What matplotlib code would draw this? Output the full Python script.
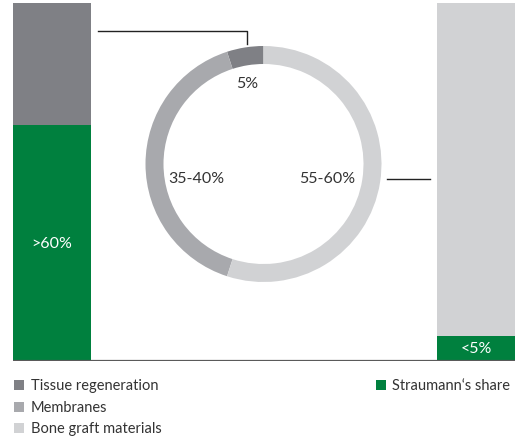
import matplotlib
matplotlib.use("Agg")
import matplotlib.pyplot as plt
from matplotlib.patches import Rectangle

plt.rcParams['font.family'] = ['Lato', 'DejaVu Sans']

# ---- data ----
segments = ["Tissue regeneration", "Membranes", "Bone graft materials"]
segment_values = [5, 40, 55]
segment_labels = ["5%", "35-40%", "55-60%"]
share_label = "Straumann‘s share"
left_share = 66      # Straumann share in tissue regeneration (>60%)
right_share = 7      # Straumann share in bone graft materials (<5%)
left_share_text = ">60%"
right_share_text = "<5%"

GREEN = "#00803e"
C_TISSUE = "#7f8085"
C_MEMB = "#a8a9ad"
C_BONE = "#d1d2d4"
seg_colors = [C_TISSUE, C_MEMB, C_BONE]

W, H = 524, 439
fig = plt.figure(figsize=(W / 100, H / 100), dpi=100)

def fx(px):
    return px / W

def fy(py):
    return 1 - py / H

# ---- overlay axes in pixel coords ----
ov = fig.add_axes([0, 0, 1, 1])
ov.set_xlim(0, W)
ov.set_ylim(H, 0)
ov.axis("off")

# ---- bar axes ----
base_px, top_px = 362, 4
bx = fig.add_axes([0, fy(base_px), 1, (base_px - top_px) / H])
bx.set_xlim(0, W)
bx.set_ylim(0, 100)
bx.axis("off")
bar_x = [52, 476]
bar_w = 78
shares = [left_share, right_share]
rest = [100 - left_share, 100 - right_share]
bx.bar(bar_x, shares, width=bar_w, color=GREEN, linewidth=0)
bx.bar(bar_x, rest, bottom=shares, width=bar_w, color=[C_TISSUE, C_BONE], linewidth=0)
bx.plot([13, 515], [0, 0], color="#5a5a5a", lw=1.6, solid_capstyle="butt", zorder=5)
bx.text(bar_x[0], left_share / 2, left_share_text, color="white", ha="center", va="center", fontsize=11.5)
bx.text(bar_x[1], right_share / 2, right_share_text, color="white", ha="center", va="center", fontsize=11.5)

# ---- donut ----
cx, cy, r = 263.5, 165, 118
dx = fig.add_axes([fx(cx - r), fy(cy + r), 2 * r / W, 2 * r / H])
dx.pie(segment_values, colors=seg_colors, startangle=90, counterclock=True,
       radius=1, wedgeprops=dict(width=18 / r, linewidth=0))
dx.set_xlim(-1, 1)
dx.set_ylim(-1, 1)
dx.set_aspect("equal")
dx.axis("off")

ov.text(247, 84, segment_labels[0], ha="center", va="center", fontsize=11.5, color="#333333")
ov.text(196, 179, segment_labels[1], ha="center", va="center", fontsize=11.5, color="#333333")
ov.text(327, 179, segment_labels[2], ha="center", va="center", fontsize=11.5, color="#333333")

# connector lines
ov.plot([98, 247, 247], [31.5, 31.5, 45], color="#222222", lw=1.0)
ov.plot([387, 430], [180, 180], color="#222222", lw=1.0)

# ---- legend ----
leg_y = [386, 408, 429]
for name, col, y in zip(segments, seg_colors, leg_y):
    ov.add_patch(Rectangle((14, y - 5), 10, 10, color=col, lw=0))
    ov.text(31, y, name, ha="left", va="center", fontsize=10.5, color="#333333")
ov.add_patch(Rectangle((376, leg_y[0] - 5), 10, 10, color=GREEN, lw=0))
ov.text(392, leg_y[0], share_label, ha="left", va="center", fontsize=10.5, color="#333333")

fig.savefig("out.png", dpi=100)
